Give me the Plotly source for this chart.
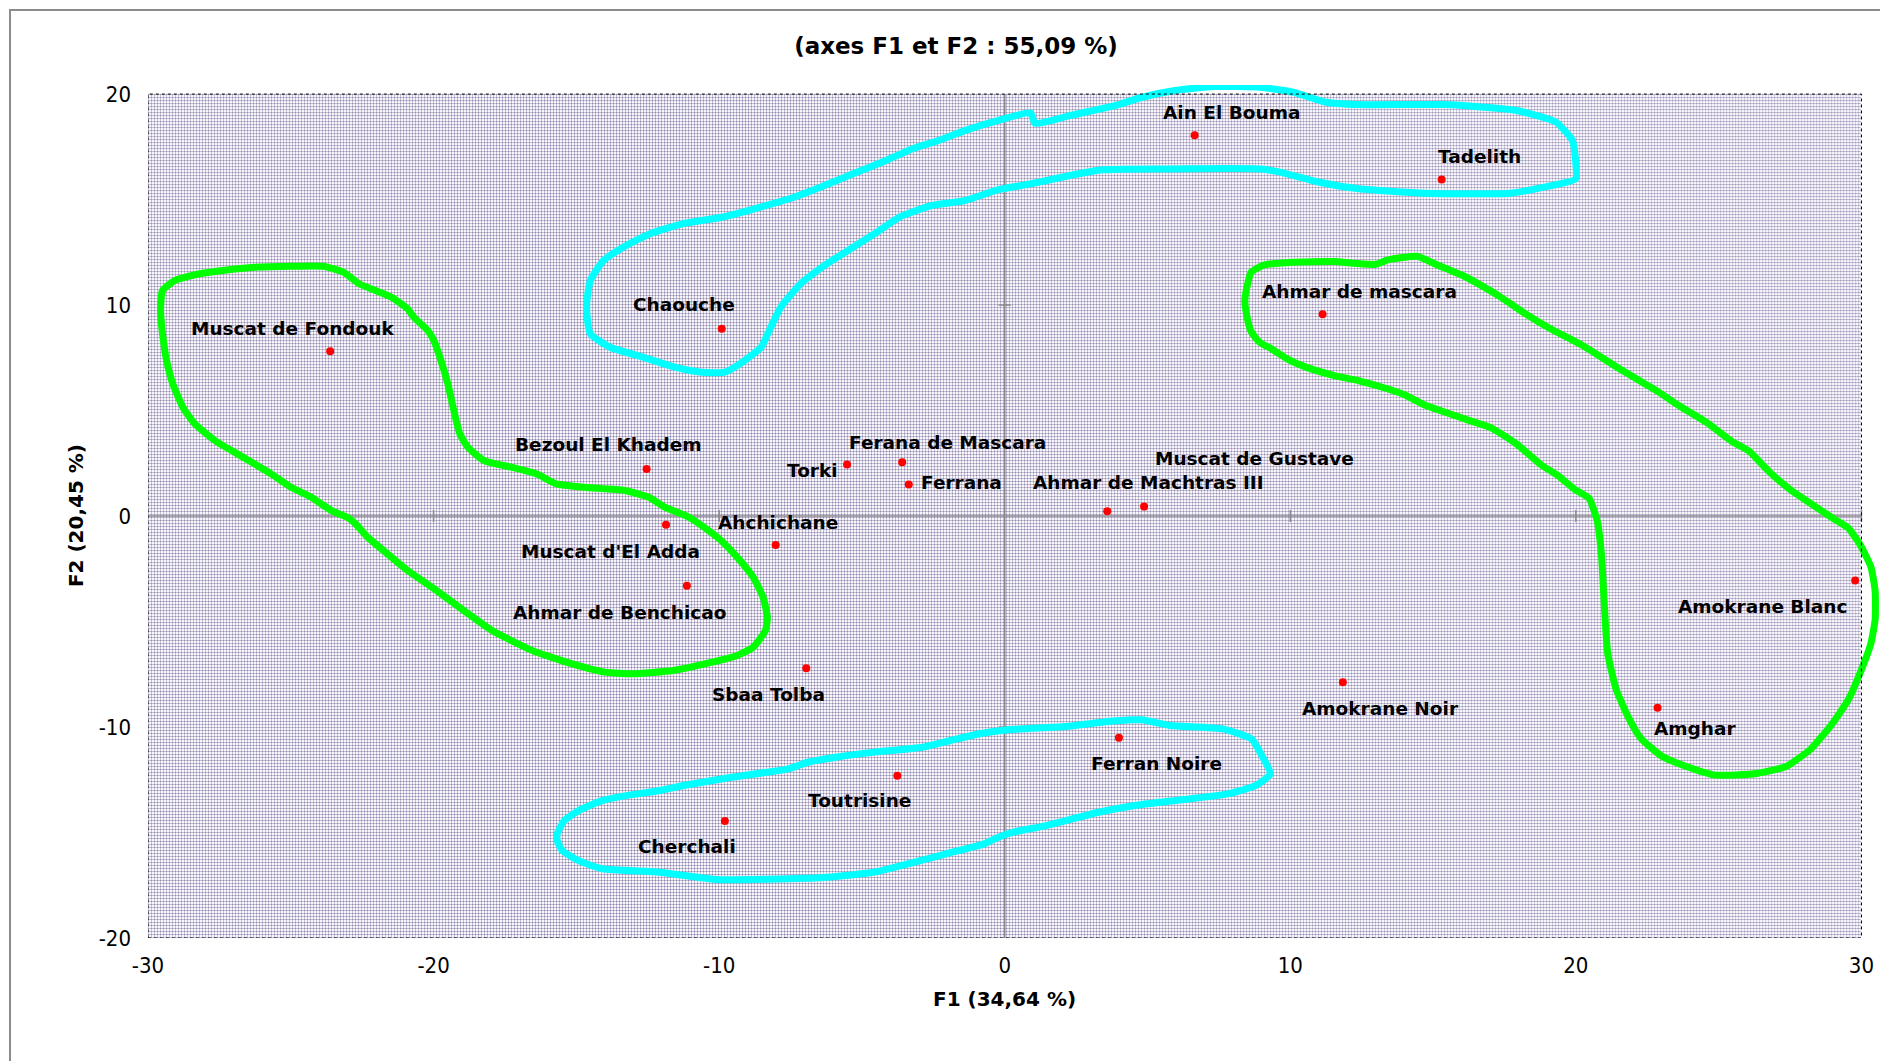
import base64
import plotly.graph_objects as go

# ---- data: cultivar coordinates on the first factorial plane ----
cultivars = ["Ain El Bouma", "Tadelith", "Chaouche", "Muscat de Fondouk", "Ahmar de mascara",
             "Bezoul El Khadem", "Torki", "Ferana de Mascara", "Ferrana", "Ahmar de Machtras III",
             "Muscat de Gustave", "Muscat d'El Adda", "Ahchichane", "Ahmar de Benchicao", "Sbaa Tolba",
             "Amokrane Blanc", "Amokrane Noir", "Amghar", "Ferran Noire", "Toutrisine", "Cherchali"]
f1 = [6.65, 15.30, -9.91, -23.62, 11.13, -12.54, -5.52, -3.59, -3.36, 3.59, 4.88,
      -11.86, -8.02, -11.13, -6.95, 29.78, 11.84, 22.86, 4.00, -3.76, -9.80]
f2 = [18.05, 15.95, 8.88, 7.81, 9.57, 2.23, 2.44, 2.55, 1.49, 0.23, 0.45,
      -0.41, -1.37, -3.30, -7.22, -3.06, -7.88, -9.09, -10.51, -12.31, -14.46]

x_ticks = [-30, -20, -10, 0, 10, 20, 30]
y_ticks = [-20, -10, 0, 10, 20]

# ---- hand-drawn group outlines (F1, F2) ----
group_top_x = [-14.63, -14.51, -14.05, -13.36, -12.44, -11.29, -9.91, -8.99, -7.38, -6.46, -5.31, -4.16,
               -3.24, -2.32, -1.40, -0.25, 0.90, 1.06, 2.28, 3.89, 4.81, 5.96, 7.34, 8.95, 10.10, 11.25,
               12.40, 15.39, 17.92, 19.30, 19.88, 19.99, 19.99, 18.84, 17.69, 14.70, 12.40, 11.02, 9.64,
               8.95, 5.50, 3.43, 2.28, 0.90, -0.25, -1.40, -2.55, -3.70, -4.39, -5.31, -6.23, -7.15,
               -7.84, -8.30, -8.53, -9.11, -9.80, -10.60, -11.52, -12.67, -13.82, -14.51, -14.63, -14.63]
group_top_y = [10.21, 11.16, 12.11, 12.74, 13.37, 13.85, 14.16, 14.48, 15.11, 15.58, 16.22, 16.85,
               17.40, 17.80, 18.27, 18.74, 19.11, 18.62, 18.98, 19.46, 19.85, 20.17, 20.36, 20.32, 20.09,
               19.61, 19.50, 19.50, 19.22, 18.67, 17.80, 16.85, 15.98, 15.58, 15.30, 15.30, 15.51, 15.82,
               16.30, 16.45, 16.45, 16.41, 16.14, 15.74, 15.46, 14.95, 14.72, 14.16, 13.53, 12.74, 11.95,
               11.00, 9.90, 8.63, 8.00, 7.37, 6.82, 6.82, 7.05, 7.53, 8.00, 8.63, 9.58, 10.21]

group_bottom_x = [-15.67, -15.42, -14.92, -14.08, -13.25, -12.08, -11.24, -9.57, -7.57, -6.90, -5.90,
                  -4.56, -2.89, -1.89, -0.88, 0.12, 2.12, 3.79, 4.79, 5.80, 7.63, 8.64, 8.97, 9.30, 8.80,
                  7.80, 6.47, 4.96, 3.29, 1.45, 0.28, -0.22, -0.72, -2.05, -3.39, -4.56, -6.23, -7.90,
                  -10.07, -12.08, -14.08, -14.92, -15.50, -15.67, -15.67]
group_bottom_y = [-15.06, -14.43, -13.96, -13.48, -13.25, -13.01, -12.77, -12.38, -11.98, -11.67, -11.43,
                  -11.19, -10.96, -10.64, -10.32, -10.13, -9.98, -9.72, -9.66, -9.93, -10.09, -10.56,
                  -11.27, -12.22, -12.77, -13.17, -13.41, -13.64, -14.04, -14.67, -14.99, -15.22, -15.54,
                  -16.01, -16.49, -16.88, -17.12, -17.20, -17.23, -16.88, -16.72, -16.33, -15.85, -15.38,
                  -15.06]

group_left_x = [-29.49, -29.07, -28.22, -27.38, -26.25, -24.99, -23.86, -23.16, -22.59, -22.03, -21.47,
                -20.91, -20.69, -20.20, -19.99, -19.78, -19.50, -19.29, -19.08, -18.80, -18.23, -17.25,
                -16.40, -15.70, -14.72, -13.31, -12.46, -11.90, -11.06, -10.21, -9.93, -9.37, -8.81, -8.46,
                -8.31, -8.38, -8.81, -9.37, -10.50, -11.62, -13.03, -14.01, -15.14, -16.54, -17.95, -18.94,
                -20.06, -20.91, -21.61, -22.31, -22.73, -23.02, -23.58, -24.28, -24.99, -25.69, -26.67,
                -27.66, -28.36, -28.78, -29.13, -29.35, -29.49, -29.56, -29.49]
group_left_y = [10.69, 11.16, 11.48, 11.64, 11.79, 11.84, 11.84, 11.56, 11.00, 10.69, 10.37, 9.82, 9.42,
                8.79, 8.32, 7.53, 6.26, 5.00, 3.89, 3.26, 2.63, 2.31, 2.00, 1.52, 1.36, 1.21, 0.89, 0.42,
                -0.06, -0.85, -1.16, -1.95, -2.90, -3.85, -4.80, -5.43, -6.22, -6.61, -7.01, -7.32, -7.48,
                -7.40, -7.01, -6.38, -5.43, -4.48, -3.37, -2.58, -1.80, -1.00, -0.37, -0.06, 0.26, 0.89,
                1.36, 2.00, 2.79, 3.58, 4.37, 5.16, 6.26, 7.37, 8.63, 9.74, 10.69]

group_right_x = [8.49, 8.63, 9.07, 10.08, 11.54, 12.26, 12.99, 13.42, 14.44, 15.17, 16.04, 16.62, 17.34,
                 18.07, 19.08, 20.25, 21.41, 22.13, 22.86, 23.59, 24.60, 25.47, 26.05, 26.78, 27.50, 28.23,
                 28.96, 29.54, 29.97, 30.33, 30.48, 30.48, 30.33, 29.97, 29.54, 28.96, 28.23, 27.36, 26.34,
                 24.89, 23.87, 23.00, 22.28, 21.84, 21.41, 21.12, 21.04, 20.97, 20.90, 20.75, 20.46, 19.96,
                 19.37, 18.79, 17.92, 17.05, 16.33, 15.45, 14.73, 14.00, 13.28, 12.41, 11.54, 10.52, 9.94,
                 9.36, 8.92, 8.63, 8.49, 8.41, 8.49]
group_right_y = [10.90, 11.56, 11.89, 12.03, 12.06, 11.98, 11.93, 12.14, 12.31, 11.89, 11.40, 10.98, 10.40,
                 9.73, 8.90, 8.07, 7.08, 6.49, 5.91, 5.25, 4.42, 3.53, 3.09, 2.09, 1.26, 0.59, -0.07, -0.57,
                 -1.40, -2.40, -3.56, -4.89, -6.05, -7.38, -8.71, -9.87, -11.04, -11.87, -12.20, -12.28,
                 -11.87, -11.37, -10.54, -9.54, -8.21, -6.55, -5.22, -3.56, -1.90, -0.24, 0.84, 1.26, 1.92,
                 2.42, 3.42, 4.17, 4.50, 4.91, 5.25, 5.75, 6.08, 6.41, 6.66, 7.07, 7.41, 7.91, 8.24, 8.74,
                 9.40, 10.23, 10.90]

# ---- label placement (pixel offsets from each point, y pointing down) ----
label_offsets = {
    "Ain El Bouma": (37, -23), "Tadelith": (38, -23), "Chaouche": (-38, -24),
    "Muscat de Fondouk": (-38, -23), "Ahmar de mascara": (37, -23), "Bezoul El Khadem": (-38, -24),
    "Torki": (-35, 6), "Ferana de Mascara": (45, -20), "Ferrana": (53, -2),
    "Ahmar de Machtras III": (41, -29), "Muscat de Gustave": (110, -48), "Muscat d'El Adda": (-56, 27),
    "Ahchichane": (2, -22), "Ahmar de Benchicao": (-67, 27), "Sbaa Tolba": (-38, 26),
    "Amokrane Blanc": (-93, 26), "Amokrane Noir": (38, 26), "Amghar": (37, 21),
    "Ferran Noire": (38, 26), "Toutrisine": (-38, 25), "Cherchali": (-38, 25),
}

W, H = 1880, 1061
ML, MR, MT, MB = 148, 0, 85, 123
X_RANGE = [-30, 30.65]
Y_RANGE = [-20, 20.43]
plot_w = W - ML - MR
plot_h = H - MT - MB

BOLD_FAMILY = "DejaVu Sans, Verdana, sans-serif"
LABEL_FONT = dict(family=BOLD_FAMILY, size=18.5, color="#000000")
TICK_FONT = dict(family="DejaVu Sans Condensed, Liberation Sans Narrow, sans-serif", size=22, color="#000000")

# fine dotted fill of the plotting area, rendered as an SVG pattern
pw = round(plot_w * 60 / (X_RANGE[1] - X_RANGE[0]))
ph = round(plot_h * 40 / (Y_RANGE[1] - Y_RANGE[0]))
svg = (
    f'<svg xmlns="http://www.w3.org/2000/svg" width="{pw}" height="{ph}" '
    f'viewBox="0 0 {pw} {ph}" shape-rendering="crispEdges">'
    '<defs><pattern id="p" width="3" height="3" patternUnits="userSpaceOnUse">'
    '<rect width="3" height="3" fill="#f7f6fa"/>'
    '<rect x="0" y="0" width="3" height="1" fill="#c2bbd5"/>'
    '<rect x="0" y="0" width="1" height="3" fill="#c2bbd5"/>'
    '<rect x="0" y="0" width="1" height="1" fill="#8d85a8"/>'
    '</pattern></defs>'
    f'<rect width="{pw}" height="{ph}" fill="url(#p)"/></svg>'
)
bg_src = "data:image/svg+xml;base64," + base64.b64encode(svg.encode()).decode()

fig = go.Figure()

outline_groups = [
    (group_top_x, group_top_y, "#00ffff"),
    (group_bottom_x, group_bottom_y, "#00ffff"),
    (group_left_x, group_left_y, "#00ff00"),
    (group_right_x, group_right_y, "#00ff00"),
]
for gx, gy, col in outline_groups:
    fig.add_trace(go.Scatter(x=gx, y=gy, mode="lines",
                             line=dict(color=col, width=7, shape="spline", smoothing=0.5),
                             hoverinfo="skip", showlegend=False))

fig.add_trace(go.Scatter(x=f1, y=f2, mode="markers", text=cultivars,
                         marker=dict(color="#ff0000", size=8, line=dict(width=0)),
                         cliponaxis=False, showlegend=False,
                         hovertemplate="%{text}<br>F1=%{x}<br>F2=%{y}<extra></extra>"))

annotations = []
for name, x, y in zip(cultivars, f1, f2):
    dx, dy = label_offsets[name]
    annotations.append(dict(x=x, y=y, xref="x", yref="y", text=f"<b>{name}</b>", showarrow=False,
                            xshift=dx, yshift=-dy, font=LABEL_FONT, xanchor="center", yanchor="middle"))

# axis titles
annotations.append(dict(x=(1004 - ML) / plot_w, y=(H - MB - 999) / plot_h, xref="paper", yref="paper",
                        text="<b>F1 (34,64 %)</b>", showarrow=False, xanchor="center", yanchor="middle",
                        font=dict(family=BOLD_FAMILY, size=20, color="#000000")))
annotations.append(dict(x=(75.5 - ML) / plot_w, y=(H - MB - 515.6) / plot_h, xref="paper", yref="paper",
                        text="<b>F2 (20,45 %)</b>", showarrow=False, textangle=-90,
                        xanchor="center", yanchor="middle",
                        font=dict(family=BOLD_FAMILY, size=20, color="#000000")))

shapes = []
# outer chart frame
shapes.append(dict(type="rect", xref="paper", yref="paper",
                   x0=(10 - ML) / plot_w, x1=1.2, y0=-0.3, y1=(H - MB - 10) / plot_h,
                   line=dict(color="#8c8c8c", width=2), fillcolor="rgba(0,0,0,0)", layer="below"))
# plot-area border
shapes.append(dict(type="rect", xref="x", yref="y", x0=x_ticks[0], x1=x_ticks[-1], y0=y_ticks[0], y1=y_ticks[-1],
                   line=dict(color="#000000", width=1, dash="dot"), fillcolor="rgba(0,0,0,0)", layer="above"))
# crosshair axes through the origin
AX_COL = "#8a8a8a"
shapes.append(dict(type="line", xref="x", yref="y", x0=x_ticks[0], x1=x_ticks[-1], y0=0, y1=0,
                   line=dict(color=AX_COL, width=1.5), layer="between"))
shapes.append(dict(type="line", xref="x", yref="y", x0=0, x1=0, y0=y_ticks[0], y1=y_ticks[-1],
                   line=dict(color=AX_COL, width=1.5), layer="between"))
for t in x_ticks[1:]:
    if t == 0:
        continue
    shapes.append(dict(type="line", xref="x", yref="y", x0=t, x1=t, ysizemode="pixel", yanchor=0,
                       y0=-6, y1=6, line=dict(color=AX_COL, width=1.5), layer="between"))
for t in y_ticks[1:-1]:
    if t == 0:
        continue
    shapes.append(dict(type="line", xref="x", yref="y", y0=t, y1=t, xsizemode="pixel", xanchor=0,
                       x0=-6, x1=6, line=dict(color=AX_COL, width=1.5), layer="between"))

fig.update_layout(
    width=W, height=H,
    margin=dict(l=ML, r=MR, t=MT, b=MB),
    paper_bgcolor="#ffffff", plot_bgcolor="rgba(0,0,0,0)",
    title=dict(text="<b>(axes F1 et F2 : 55,09 %)</b>", xref="container", yref="container",
               x=956 / W, y=1 - 46 / H, xanchor="center", yanchor="middle",
               font=dict(family=BOLD_FAMILY, size=23, color="#000000")),
    xaxis=dict(range=X_RANGE, tickvals=x_ticks, ticktext=[str(v) for v in x_ticks],
               showgrid=False, zeroline=False, showline=False, ticks="",
               tickfont=TICK_FONT, ticklabelstandoff=12, fixedrange=True),
    yaxis=dict(range=Y_RANGE, tickvals=y_ticks, ticktext=[str(v) for v in y_ticks],
               showgrid=False, zeroline=False, showline=False, ticks="",
               tickfont=TICK_FONT, ticklabelstandoff=16, fixedrange=True),
    images=[dict(source=bg_src, xref="x", yref="y", x=x_ticks[0], y=y_ticks[-1],
                 sizex=x_ticks[-1] - x_ticks[0], sizey=y_ticks[-1] - y_ticks[0],
                 xanchor="left", yanchor="top", sizing="stretch", layer="below")],
    shapes=shapes,
    annotations=annotations,
    showlegend=False,
)

fig.write_html("out.html")
